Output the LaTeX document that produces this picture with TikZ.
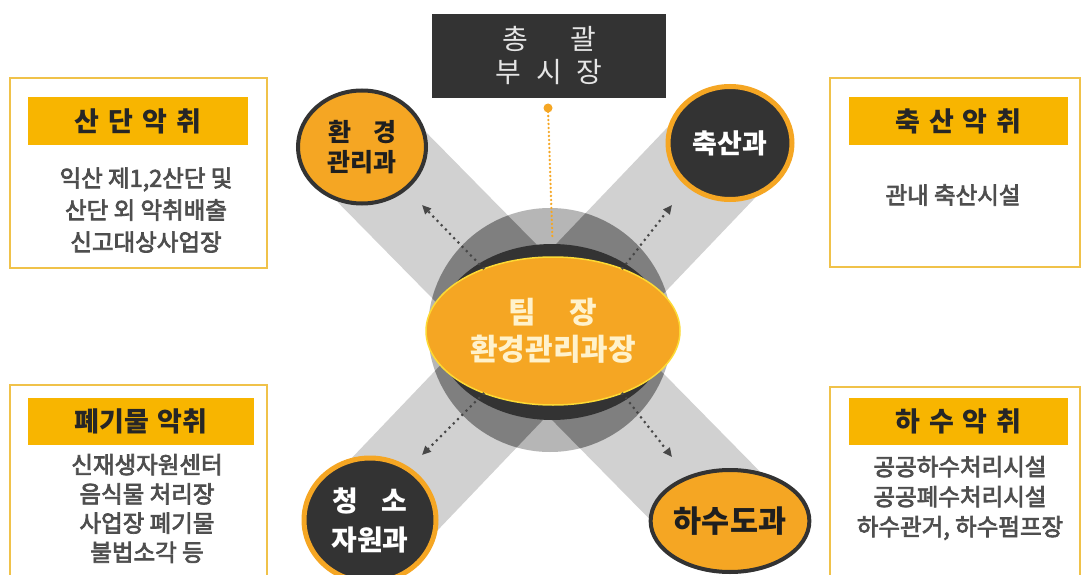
\documentclass[tikz,border=0pt]{standalone}
\usepackage{fontspec}
\setmainfont{Noto Sans CJK KR}
\newfontfamily\bodyfont{Noto Sans CJK KR}[FakeBold=3]
\usetikzlibrary{arrows.meta,shapes.geometric}
\definecolor{org}{HTML}{F5A623}
\definecolor{hdr}{HTML}{F8B500}
\definecolor{bord}{HTML}{F0C24A}
\definecolor{dk}{HTML}{333333}
\definecolor{bodyg}{HTML}{4E4E4E}
\definecolor{cream}{HTML}{FFF2CC}
\definecolor{disc}{HTML}{B6B6B6}
\tikzset{
  band/.style={line width=112pt, draw=black, draw opacity=0.18},
  bandin/.style={line width=112pt, draw=black, draw opacity=0.14},
  orgcirc/.style={ellipse, fill=org, draw=dk, line width=4pt, inner sep=0pt, align=center, text=black!88},
  dkcirc/.style={ellipse, fill=dk, draw=org, line width=5pt, inner sep=0pt, align=center, text=white},
  sidebox/.style={draw=bord, line width=2.5pt, fill=white},
  hdrbar/.style={fill=hdr, draw=none, inner sep=0pt, font=\fontsize{27}{30}\selectfont\bfseries, text=black!85},
  bodytxt/.style={align=center, text=bodyg, inner sep=0pt},
  dotarrow/.style={draw=dk!90, line width=3pt, line cap=round, dash pattern=on 0pt off 6pt, -{Triangle[length=9pt,width=8pt]}},
}
\begin{document}
\begin{tikzpicture}[x=1pt,y=-1pt]
\useasboundingbox (0,0) rectangle (1082,575);
\fill[white] (0,0) rectangle (1082,575);
% circle centres
\coordinate (pHW) at (362,147);
\coordinate (pCH) at (730,143);
\coordinate (pCS) at (370,520);
\coordinate (pHS) at (730,521);
% central gray disc
\fill[disc] (550,330) circle[radius=122pt];
% bands
\draw[band] (pHW) -- (pHS);
\draw[band] (pCH) -- (pCS);
\begin{scope}
\clip (550,330) circle[radius=122pt];
\draw[bandin] (pHW) -- (pHS);
\draw[bandin] (pCH) -- (pCS);
\end{scope}
\fill[black!80] (552,332) ellipse[x radius=116pt, y radius=88pt];
% top box
\node[fill=dk, minimum width=234pt, minimum height=84pt, inner sep=0pt, align=center, text=black!10, font=\fontsize{28}{33}\selectfont] (vm) at (549,56) {총\hspace{42pt}괄\\부\hspace{15pt}시\hspace{15pt}장};
\coordinate (vmdot) at (548,108);
% centre ellipse
\node[ellipse, fill=org, draw=yellow!70!orange!80, line width=1.5pt, minimum width=254pt, minimum height=148pt, inner sep=0pt, align=center, text=cream, font=\fontsize{30}{37}\selectfont\bfseries] (team) at (553,331) {팀\hspace{34pt}장\\환경관리과장};
\draw[org, line width=2.6pt, line cap=round, dash pattern=on 0pt off 4pt, shorten >=20pt] (vmdot) -- (team.north);
\fill[org] (vmdot) circle[radius=4.5pt];
% arrows
\coordinate (eUL) at (422,205);
\coordinate (eUR) at (672,205);
\coordinate (eDL) at (422,455);
\coordinate (eDR) at (672,457);
\draw[dotarrow] (team.138) -- (eUL);
\draw[dotarrow] (team.42) -- (eUR);
\draw[dotarrow] (team.222) -- (eDL);
\draw[dotarrow] (team.318) -- (eDR);
% circles
\node[orgcirc, minimum width=128pt, minimum height=113pt, font=\fontsize{25}{30}\selectfont\bfseries] (hw) at (pHW) {환\hspace{22pt}경\\관리과};
\node[dkcirc, minimum width=124pt, minimum height=113pt, font=\fontsize{27}{30}\selectfont\bfseries] (ch) at (pCH) {축산과};
\node[dkcirc, minimum width=132pt, minimum height=124pt, font=\fontsize{28}{39}\selectfont\bfseries] (cs) at (pCS) {청\hspace{24pt}소\\자원과};
\node[orgcirc, minimum width=125pt, minimum height=102pt, font=\fontsize{30.5}{34}\selectfont\bfseries] (hs) at (pHS) {하수도과};
% side boxes
\node[sidebox, minimum width=257pt, minimum height=190pt, inner sep=0pt] (b1) at (138.5,173) {};
\node[hdrbar, minimum width=220pt, minimum height=48pt] (h1) at (138,121) {산\hspace{9pt}단\hspace{9pt}악\hspace{9pt}취};
\node[bodytxt, font=\bodyfont\fontsize{23.5}{32}\selectfont] (t1) at (146,210) {익산 제1,2산단 및\\산단 외 악취배출\\신고대상사업장};

\node[sidebox, minimum width=250pt, minimum height=189pt, inner sep=0pt] (b2) at (955,172.5) {};
\node[hdrbar, minimum width=219pt, minimum height=48pt] (h2) at (958.5,121) {축\hspace{9pt}산\hspace{9pt}악\hspace{9pt}취};
\node[bodytxt, font=\bodyfont\fontsize{23.5}{32}\selectfont] (t2) at (953,195) {관내 축산시설};

\node[sidebox, minimum width=257pt, minimum height=200pt, inner sep=0pt] (b3) at (138.5,485) {};
\node[hdrbar, minimum width=226pt, minimum height=47pt] (h3) at (141,421.5) {폐기물\hspace{9pt}악취};
\node[bodytxt, font=\bodyfont\fontsize{23.5}{29.2}\selectfont] (t3) at (147,508.5) {신재생자원센터\\음식물 처리장\\사업장 폐기물\\불법소각 등};

\node[sidebox, minimum width=250pt, minimum height=198pt, inner sep=0pt] (b4) at (955,486) {};
\node[hdrbar, minimum width=219pt, minimum height=47pt] (h4) at (958.5,421.5) {하\hspace{9pt}수\hspace{9pt}악\hspace{9pt}취};
\node[bodytxt, font=\bodyfont\fontsize{23.5}{30}\selectfont] (t4) at (960,498) {공공하수처리시설\\공공폐수처리시설\\하수관거, 하수펌프장};
\end{tikzpicture}
\end{document}
